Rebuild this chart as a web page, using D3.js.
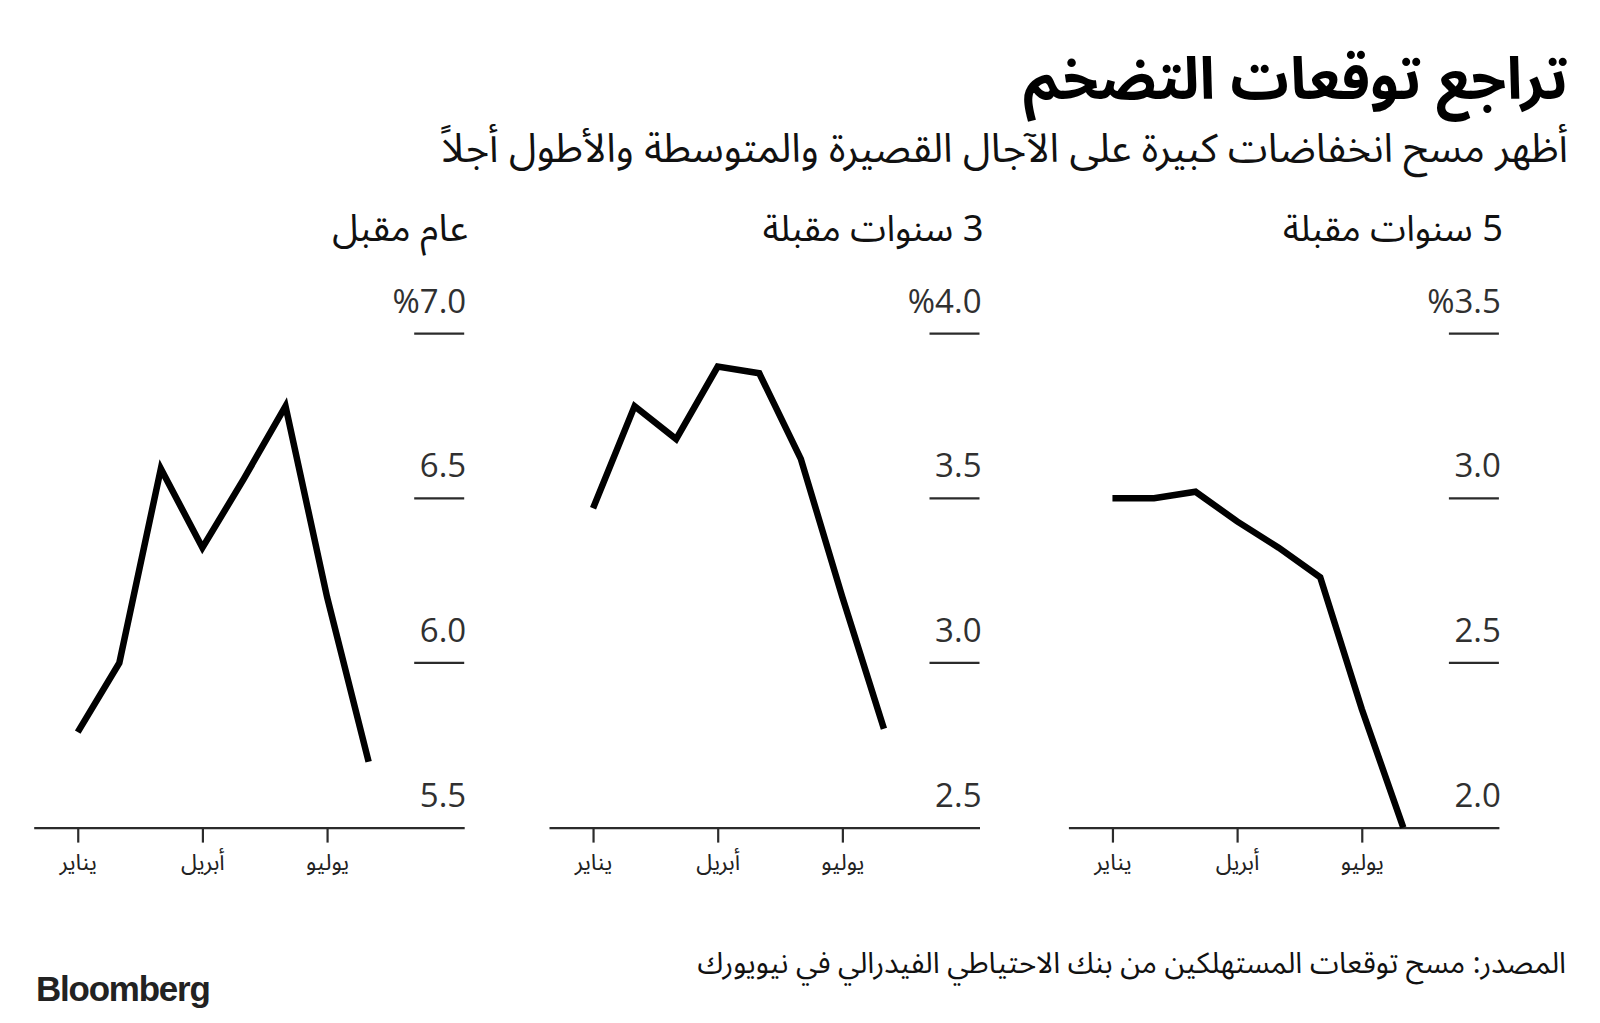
<!DOCTYPE html>
<html>
<head>
<meta charset="utf-8">
<script src="https://cdn.jsdelivr.net/npm/d3@7"></script>
<style>
  html, body { margin: 0; padding: 0; background: #fff; }
  svg { display: block; }
</style>
</head>
<body>
<svg id="chart" width="1600" height="1023"></svg>
<script>
// ---------- DATA ----------
const titleText = "تراجع توقعات التضخم";
const subtitleText = "أظهر مسح انخفاضات كبيرة على الآجال القصيرة والمتوسطة والأطول أجلاً";
const sourceText = "المصدر: مسح توقعات المستهلكين من بنك الاحتياطي الفيدرالي في نيويورك";
const panelTitles = ["عام مقبل", "3 سنوات مقبلة", "5 سنوات مقبلة"];
const months = ["يناير", "فبراير", "مارس", "أبريل", "مايو", "يونيو", "يوليو", "أغسطس"];
const tickMonths = ["يناير", "أبريل", "يوليو"];
const oneYear   = [5.79, 6.00, 6.59, 6.35, 6.56, 6.78, 6.20, 5.70];
const threeYear = [3.47, 3.78, 3.68, 3.90, 3.88, 3.62, 3.20, 2.80];
const fiveYear  = [3.00, 3.00, 3.02, 2.93, 2.85, 2.76, 2.36, 2.00];
const yTicksOne   = [5.5, 6.0, 6.5, 7.0];
const yTicksThree = [2.5, 3.0, 3.5, 4.0];
const yTicksFive  = [2.0, 2.5, 3.0, 3.5];
const yLabelsOne   = ["5.5", "6.0", "6.5", "%7.0"];
const yLabelsThree = ["2.5", "3.0", "3.5", "%4.0"];
const yLabelsFive  = ["2.0", "2.5", "3.0", "%3.5"];

// ---------- LAYOUT ----------
const svg = d3.select("#chart");
const AR = "'Noto Sans Arabic', 'Noto Kufi Arabic', 'DejaVu Sans', sans-serif";
const NUM = "'Open Sans', 'Noto Sans', sans-serif";
const ink = "#2b2b2b";

function placeRight(sel, right, targetW) {
  const node = sel.node();
  if (targetW) {
    const fs = parseFloat(sel.attr("font-size"));
    const w0 = node.getComputedTextLength();
    sel.attr("font-size", fs * targetW / w0);
  }
  const w = node.getComputedTextLength();
  sel.attr("x", right - w / 2);
}

// Title
placeRight(svg.append("text")
  .attr("y", 99).attr("text-anchor", "middle").attr("direction", "rtl")
  .attr("font-family", AR).attr("font-weight", 700).attr("font-size", 60)
  .attr("fill", "#000").text(titleText), 1568, 545);

// Subtitle
placeRight(svg.append("text")
  .attr("y", 162).attr("text-anchor", "middle").attr("direction", "rtl")
  .attr("font-family", AR).attr("font-weight", 400).attr("font-size", 36)
  .attr("fill", "#111").text(subtitleText), 1568, 1127);

const panels = [
  { left: 33.7, title: panelTitles[0], values: oneYear,   ticks: yTicksOne,   labels: yLabelsOne },
  { left: 549,  title: panelTitles[1], values: threeYear, ticks: yTicksThree, labels: yLabelsThree },
  { left: 1068.4, title: panelTitles[2], values: fiveYear, ticks: yTicksFive, labels: yLabelsFive }
];
const panelW = 430.5;
const yTop = 333.7, yBottom = 827.6;
const titleWidths = [136, 221, 220];

panels.forEach((p, i) => {
  const g = svg.append("g");
  const right = p.left + panelW;
  const x = d3.scaleLinear().domain([-1.06, 9.3]).range([p.left, right]);
  const y = d3.scaleLinear().domain([p.ticks[0], p.ticks[p.ticks.length - 1]]).range([yBottom, yTop]);

  // panel title
  placeRight(g.append("text")
    .attr("y", 241).attr("text-anchor", "middle").attr("direction", "rtl")
    .attr("font-family", AR).attr("font-size", 30).attr("fill", "#111")
    .text(p.title), right + 4, titleWidths[i]);

  // y grid segments + labels (bottom one is the axis line)
  p.ticks.forEach((t, k) => {
    if (k > 0) {
      g.append("line")
        .attr("x1", right - 50).attr("x2", right)
        .attr("y1", y(t)).attr("y2", y(t))
        .attr("stroke", ink).attr("stroke-width", 2.2);
    }
    g.append("text")
      .attr("x", right + 2).attr("y", y(t) - 21)
      .attr("text-anchor", "end")
      .attr("font-family", NUM).attr("font-size", 33).attr("fill", "#303030")
      .text(p.labels[k]);
  });

  // x axis
  const xAxis = d3.axisBottom(x)
    .tickValues(tickMonths.map(m => months.indexOf(m)))
    .tickSize(15).tickSizeOuter(0)
    .tickFormat(d => months[d]);
  const ax = g.append("g").attr("transform", `translate(0,${yBottom})`).call(xAxis);
  ax.select(".domain").attr("stroke", ink).attr("stroke-width", 2.4);
  ax.selectAll(".tick line").attr("stroke", ink).attr("stroke-width", 2.2);
  ax.selectAll(".tick text")
    .attr("y", 42).attr("dy", 0)
    .attr("font-family", AR).attr("font-size", 23).attr("fill", "#222")
    .attr("direction", "rtl");

  // line
  const line = d3.line().x((d, j) => x(j)).y(d => y(d));
  g.append("path")
    .datum(p.values)
    .attr("d", line)
    .attr("fill", "none")
    .attr("stroke", "#000")
    .attr("stroke-width", 6.5)
    .attr("stroke-linejoin", "miter")
    .attr("stroke-miterlimit", 4);
});

// Source
placeRight(svg.append("text")
  .attr("y", 973).attr("text-anchor", "middle").attr("direction", "rtl")
  .attr("font-family", AR).attr("font-size", 26).attr("fill", "#111")
  .text(sourceText), 1566, 869);

// Bloomberg logo
const logo = svg.append("text")
  .attr("x", 36).attr("y", 1001)
  .attr("font-family", "'Liberation Sans', Arial, sans-serif")
  .attr("font-weight", 700).attr("font-size", 33)
  .attr("letter-spacing", -1.2)
  .attr("fill", "#222").text("Bloomberg");
{
  const w0 = logo.node().getComputedTextLength();
  logo.attr("font-size", 33 * 173 / w0);
}
</script>
</body>
</html>
